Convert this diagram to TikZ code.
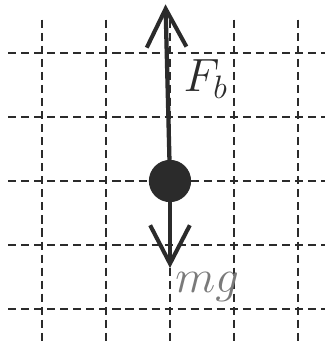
\documentclass[tikz,border=0pt]{standalone}
\usepackage{amsmath,amssymb}
\usepackage{xcolor}
\usetikzlibrary{arrows.meta,positioning}
\definecolor{ink}{HTML}{2B2B2B}
\definecolor{pencil}{HTML}{7A7A7A}

\begin{document}
\begin{tikzpicture}[>={Straight Barb[length=0.6cm,width=0.62cm,line width=1.8pt]},
    gridline/.style={ink,line width=1.1pt,dash pattern=on 3.6pt off 2.2pt},
    force/.style={->,ink,line width=1.9pt,line cap=round},
    ball/.style={circle,fill=ink,inner sep=0pt,minimum size=0.66cm}]
  \useasboundingbox (-2.656,-2.531) rectangle (2.422,2.828);
  \fill[white] (-2.656,-2.531) rectangle (2.422,2.828);
  % dashed grid
  \foreach \x in {-2,-1,0,1,2}
    \draw[gridline] (\x,2.52) -- (\x,-2.531);
  \foreach \y in {-2,-1,0,1,2}
    \draw[gridline] (-2.53,\y) -- (2.422,\y);
  \node[ball] (ball) at (0,0) {};
  \coordinate (top) at (-0.07,2.76);
  \coordinate (bottom) at (0,-1.36);
  \draw[force] (ball) -- (top);
  \draw[force] (ball) -- (bottom);
  \node[ink,font=\huge,inner sep=1pt] (fb) at (0.56,1.6) {$F_b$};
  \node[pencil,font=\huge,inner sep=1pt] (mg) at (0.58,-1.65) {$mg$};
\end{tikzpicture}
\end{document}
